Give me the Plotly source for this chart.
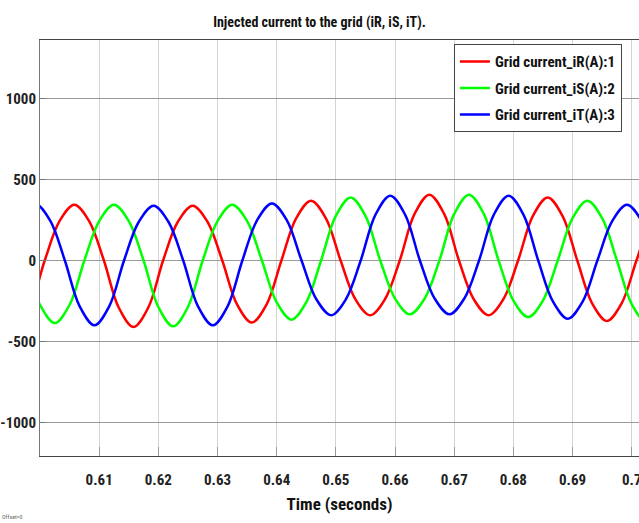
import plotly.graph_objects as go

# Phase R samples: time (s) and current (A)
t_R = [0.5958, 0.5983, 0.6008, 0.6033, 0.6058, 0.6083, 0.6108, 0.6133, 0.6158,
       0.6183, 0.6208, 0.6233, 0.6258, 0.6283, 0.6308, 0.6333, 0.6358, 0.6383,
       0.6408, 0.6433, 0.6458, 0.6483, 0.6508, 0.6533, 0.6558, 0.6583, 0.6608,
       0.6633, 0.6658, 0.6683, 0.6708, 0.6733, 0.6758, 0.6783, 0.6808, 0.6833,
       0.6858, 0.6883, 0.6908, 0.6933, 0.6958, 0.6983, 0.7008, 0.7033, 0.7058]
i_R = [-400, -283, 0, 243, 344, 243, 0, -290, -410,
       -290, 0, 239, 338, 239, 0, -271, -383, -271,
       0, 261, 369, 261, 0, -239, -338, -239, 0,
       287, 406, 287, 0, -239, -338, -239, 0, 275,
       389, 275, 0, -264, -373, -264, 0, 250, 355]

# Phase S samples
t_S = [0.5950, 0.5975, 0.6000, 0.6025, 0.6050, 0.6075, 0.6100, 0.6125, 0.6150,
       0.6175, 0.6200, 0.6225, 0.6250, 0.6275, 0.6300, 0.6325, 0.6350, 0.6375,
       0.6400, 0.6425, 0.6450, 0.6475, 0.6500, 0.6525, 0.6550, 0.6575, 0.6600,
       0.6625, 0.6650, 0.6675, 0.6700, 0.6725, 0.6750, 0.6775, 0.6800, 0.6825,
       0.6850, 0.6875, 0.6900, 0.6925, 0.6950, 0.6975, 0.7000, 0.7025, 0.7050]
i_S = [243, 0, -273, -386, -273, 0, 243, 344, 243,
       0, -287, -406, -287, 0, 243, 344, 243, 0,
       -258, -365, -258, 0, 275, 389, 275, 0, -235,
       -332, -235, 0, 287, 406, 287, 0, -247, -349,
       -247, 0, 261, 369, 261, 0, -269, -380, -269]

# Phase T samples
t_T = [0.5967, 0.5992, 0.6017, 0.6042, 0.6067, 0.6092, 0.6117, 0.6142, 0.6167,
       0.6192, 0.6217, 0.6242, 0.6267, 0.6292, 0.6317, 0.6342, 0.6367, 0.6392,
       0.6417, 0.6442, 0.6467, 0.6492, 0.6517, 0.6542, 0.6567, 0.6592, 0.6617,
       0.6642, 0.6667, 0.6692, 0.6717, 0.6742, 0.6767, 0.6792, 0.6817, 0.6842,
       0.6867, 0.6892, 0.6917, 0.6942, 0.6967, 0.6992, 0.7017, 0.7042]
i_T = [247, 349, 247, 0, -283, -400, -283, 0, 239,
       338, 239, 0, -283, -400, -283, 0, 249, 352,
       249, 0, -239, -338, -239, 0, 283, 400, 283,
       0, -235, -332, -235, 0, 283, 400, 283, 0,
       -254, -359, -254, 0, 243, 344, 243, 0]

x_ticks = [0.61, 0.62, 0.63, 0.64, 0.65, 0.66, 0.67, 0.68, 0.69, 0.70]
x_tick_text = ["0.61", "0.62", "0.63", "0.64", "0.65", "0.66", "0.67", "0.68", "0.69", "0.7"]
y_ticks = [-1000, -500, 0, 500, 1000]
y_tick_text = ["-1000", "-500", "0", "500", "1000"]

FONT = "Roboto Condensed, Roboto, sans-serif"

series = [
    ("Grid current_iR(A):1", t_R, i_R, "#ff0000"),
    ("Grid current_iS(A):2", t_S, i_S, "#00ff00"),
    ("Grid current_iT(A):3", t_T, i_T, "#0000ff"),
]

fig = go.Figure()
for k, (name, t, i, color) in enumerate(series):
    fig.add_trace(go.Scatter(
        x=t, y=i, name=name, mode="lines", legendgroup=f"g{k}",
        line=dict(color=color, width=2.5, shape="spline", smoothing=1.0),
    ))

fig.update_layout(
    width=639, height=523,
    margin=dict(l=40, r=0, t=40, b=67),
    paper_bgcolor="white", plot_bgcolor="white",
    font=dict(family=FONT, color="#222222"),
    title=dict(
        text="Injected current to the grid (iR, iS, iT).",
        x=0.5, xref="container", xanchor="center",
        y=1 - 22 / 523, yref="container", yanchor="middle",
        font=dict(family=FONT, size=14, weight="bold", color="#111111"),
    ),
    legend=dict(
        x=0.691, y=0.990, xanchor="left", yanchor="top",
        bgcolor="white", bordercolor="#444444", borderwidth=1,
        font=dict(family=FONT, size=15, weight="bold", color="#111111"),
        itemwidth=30, tracegroupgap=4,
    ),
    showlegend=True,
)

fig.update_xaxes(
    range=[0.6, 0.70123], automargin=False,
    tickvals=x_ticks, ticktext=x_tick_text,
    tickfont=dict(family=FONT, size=15, weight="bold", color="#222222"),
    ticks="inside", ticklen=9, tickcolor="#999999",
    ticklabelstandoff=10, ticklabeloverflow="allow",
    showgrid=True, gridcolor="#d4d4d4", gridwidth=1,
    zeroline=False,
    showline=True, linecolor="#444444", linewidth=1, mirror=True,
    title=dict(text="Time (seconds)", standoff=10,
               font=dict(family=FONT, size=17, weight="bold", color="#111111")),
)

fig.update_yaxes(
    range=[-1206, 1360], automargin=False,
    tickvals=y_ticks, ticktext=y_tick_text,
    tickfont=dict(family=FONT, size=15, weight="bold", color="#222222"),
    ticks="inside", ticklen=6, tickcolor="#777777",
    showgrid=True, gridcolor="#9a9a9a", gridwidth=1,
    zeroline=False,
    showline=True, linecolor="#777777", linewidth=1,
)

fig.add_annotation(
    text="Offset=0", xref="paper", yref="paper",
    x=-40 / 599, y=-(516 - 455.7) / 415.7, xanchor="left", yanchor="middle",
    showarrow=False, font=dict(family=FONT, size=6, color="#666666"),
)

# Use the condensed face for all chart text, then redraw so that
# the legend box and label positions are measured with it.
condensed_css = """
var gd = document.querySelector('.plotly-graph-div');
var s = document.createElement('style');
s.textContent = '.js-plotly-plot svg text { font-stretch: condensed; }';
document.head.appendChild(s);
Plotly.newPlot(gd, gd.data, gd.layout);
"""

fig.write_html("out.html", post_script=condensed_css)
